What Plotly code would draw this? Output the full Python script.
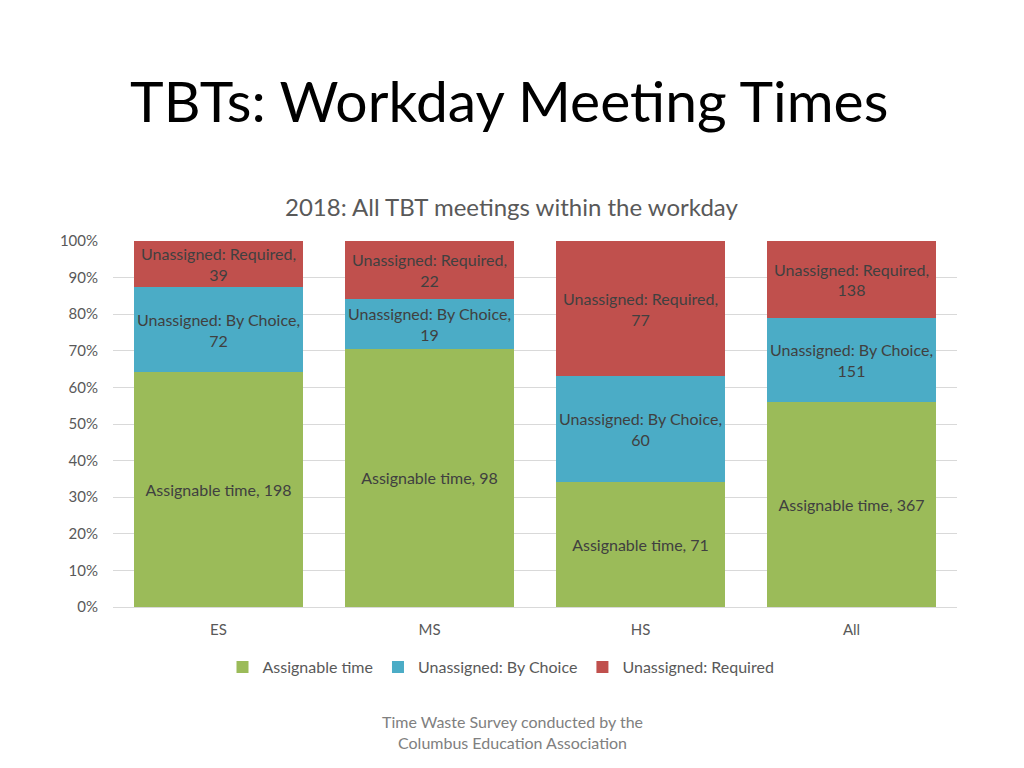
import plotly.graph_objects as go

categories = ["ES", "MS", "HS", "All"]
assignable = [198, 98, 71, 367]
by_choice = [72, 19, 60, 151]
required = [39, 22, 77, 138]
series_names = ["Assignable time", "Unassigned: By Choice", "Unassigned: Required"]
colors = ["#9BBB59", "#4BACC6", "#C0504D"]
y_ticks = [0, 10, 20, 30, 40, 50, 60, 70, 80, 90, 100]

FONT = "Lato"
OFF = 8  # page body offset

# reference plot area
PL, PR, PT, PB = 113, 957, 241, 607
W, H = 1024 - OFF, 768 - OFF


def px(x):
    return (x - PL) / (PR - PL)


def py(y):
    return (PB - y) / (PB - PT)


fig = go.Figure()
for name, vals, col in zip(series_names, [assignable, by_choice, required], colors):
    texts = [f"{name},<br>{v}" if name != "Assignable time" else f"{name}, {v}" for v in vals]
    fig.add_trace(go.Bar(
        x=categories, y=vals, name=name, marker=dict(color=col, line=dict(width=0)),
        text=texts, texttemplate="%{text}", textposition="inside",
        insidetextanchor="middle", constraintext="none",
        textfont=dict(family=FONT, size=16, color="#404040"),
        hoverinfo="skip",
    ))

fig.update_layout(
    barmode="stack", barnorm="percent", bargap=0.2,
    width=W, height=H,
    margin=dict(l=PL - OFF, r=W - (PR - OFF), t=PT - OFF, b=H - (PB - OFF)),
    paper_bgcolor="white", plot_bgcolor="white",
    font=dict(family=FONT, color="#595959", size=15),
    showlegend=True,
    legend=dict(orientation="h", x=px(501), xanchor="center", y=py(650), yanchor="top",
                font=dict(family=FONT, size=16, color="#595959"), traceorder="normal",
                itemwidth=30),
)
fig.update_yaxes(range=[0, 100], tickvals=y_ticks, ticktext=[f"{t}%" for t in y_ticks],
                 gridcolor="#D9D9D9", gridwidth=1, zeroline=False,
                 showline=False, tickfont=dict(family=FONT, size=15, color="#595959"),
                 ticks="", ticklabelstandoff=14, automargin=False)
fig.update_xaxes(showline=True, linecolor="#D9D9D9", linewidth=1, ticks="",
                 tickfont=dict(family=FONT, size=15, color="#595959"),
                 ticklabelstandoff=9, automargin=False)

fig.add_annotation(text="TBTs: Workday Meeting Times", xref="paper", yref="paper",
                   x=px(128), y=py(100), xanchor="left", yanchor="middle",
                   showarrow=False, font=dict(family=FONT, size=57, color="black"))
fig.add_annotation(text="2018: All TBT meetings within the workday", xref="paper", yref="paper",
                   x=px(512), y=py(207), xanchor="center", yanchor="middle",
                   showarrow=False, font=dict(family=FONT, size=24, color="#595959"))
fig.add_annotation(text="Time Waste Survey conducted by the<br>Columbus Education Association",
                   xref="paper", yref="paper",
                   x=px(512), y=py(732), xanchor="center", yanchor="middle",
                   showarrow=False, font=dict(family=FONT, size=16, color="#808080"))

fig.write_html("out.html")
